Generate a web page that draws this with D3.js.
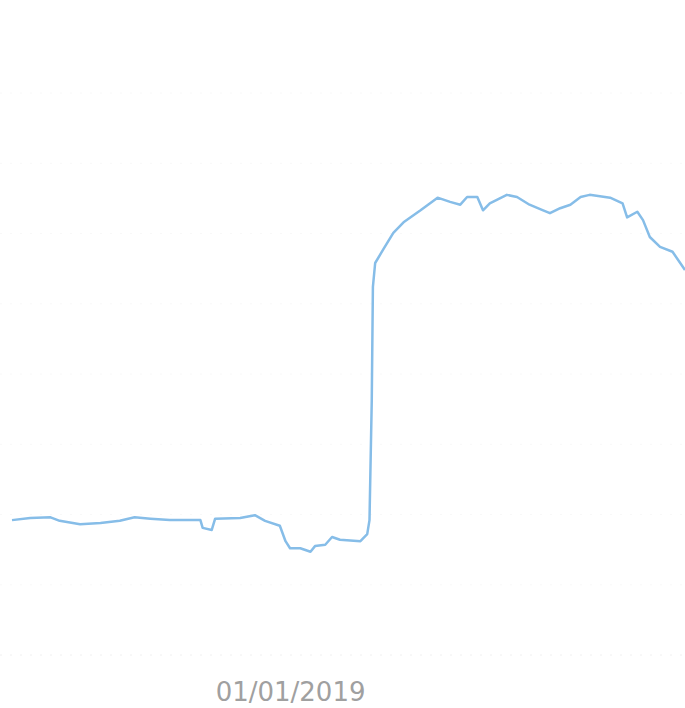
<!DOCTYPE html>
<html>
<head>
<meta charset="utf-8">
<script src="https://cdn.jsdelivr.net/npm/d3@7"></script>
<style>
  html, body { margin: 0; padding: 0; background: #fff; }
  svg { display: block; }
</style>
</head>
<body>
<svg id="chart"></svg>
<script>
// Données
const dates = [
    "2018-05-01", "2018-05-17", "2018-06-04", "2018-06-12", "2018-06-30",
    "2018-07-18", "2018-08-04", "2018-08-17", "2018-08-31", "2018-09-17",
    "2018-10-14", "2018-10-16", "2018-10-24", "2018-10-27", "2018-11-18",
    "2018-12-01", "2018-12-10", "2018-12-23", "2018-12-28", "2019-01-01",
    "2019-01-10", "2019-01-19", "2019-01-23", "2019-02-01", "2019-02-07",
    "2019-02-14", "2019-03-04", "2019-03-10", "2019-03-12", "2019-03-14",
    "2019-03-15", "2019-03-17", "2019-03-24", "2019-04-02", "2019-04-11",
    "2019-04-26", "2019-05-11", "2019-05-22", "2019-05-31", "2019-06-06",
    "2019-06-15", "2019-06-20", "2019-06-26", "2019-07-11", "2019-07-20",
    "2019-07-31", "2019-08-12", "2019-08-18", "2019-08-27", "2019-09-05",
    "2019-09-14", "2019-09-22", "2019-10-10", "2019-10-21", "2019-10-25",
    "2019-11-03", "2019-11-08", "2019-11-14", "2019-11-23", "2019-12-04",
    "2019-12-15"
]

const values = [
    19.2, 19.5, 19.6, 19.1, 18.6,
    18.8, 19.1, 19.6, 19.4, 19.2,
    19.2, 18.1, 17.8, 19.4, 19.5,
    19.9, 19.1, 18.4, 16.2, 15.2,
    15.2, 14.7, 15.5, 15.7, 16.8,
    16.4, 16.2, 17.2, 19.2, 36.3,
    52.4, 55.8, 57.7, 60.1, 61.6,
    63.3, 65.1, 64.5, 64.1, 65.2,
    65.2, 63.3, 64.3, 65.5, 65.2,
    64.1, 63.3, 62.9, 63.6, 64.1,
    65.2, 65.5, 65.1, 64.3, 62.3,
    63.1, 61.9, 59.5, 58.1, 57.4,
    54.8
]

const yTicks = [0, 10, 20, 30, 40, 50, 60, 70, 80]
const xTicks = ["2019-01-01"]

// -------------------------------------------------------------------------------

const width = 685,
    height = 708

const parseDate = d3.timeParse("%Y-%m-%d")
const series = dates.map((d, i) => ({ date: parseDate(d), value: values[i] }))

const svg = d3.select("#chart")
    .attr("width", width)
    .attr("height", height)

const x = d3.scaleTime()
    .domain([parseDate("2018-05-01"), parseDate("2019-12-15")])
    .range([12, 685])

const y = d3.scaleLinear()
    .domain([0, 80])
    .range([655, 93])

// Grille horizontale (presque invisible)
svg.append("g")
    .selectAll("line")
    .data(yTicks)
    .enter()
    .append("line")
    .attr("x1", 0)
    .attr("x2", width)
    .attr("y1", d => y(d))
    .attr("y2", d => y(d))
    .attr("stroke", d => d == 0 ? "#f0f0f0" : "#f8f8f8")
    .attr("stroke-width", 1)
    .attr("stroke-dasharray", "2,8")

// Axe x
const xAxis = svg.append("g")
    .attr("transform", `translate(0, ${y(0)})`)
    .call(d3.axisBottom(x)
        .tickValues(xTicks.map(parseDate))
        .tickSize(0)
        .tickPadding(28)
        .tickFormat(d3.timeFormat("%d/%m/%Y")))

xAxis.select(".domain").remove()
xAxis.selectAll("text")
    .style("font-family", "'DejaVu Sans', sans-serif")
    .style("font-size", "26px")
    .style("fill", "#a0a0a0")

// Courbe
const line = d3.line()
    .x(d => x(d.date))
    .y(d => y(d.value))

svg.append("path")
    .datum(series)
    .attr("d", line)
    .attr("fill", "none")
    .attr("stroke", "#86bde8")
    .attr("stroke-width", 2.5)
    .attr("stroke-linejoin", "round")
</script>
</body>
</html>
